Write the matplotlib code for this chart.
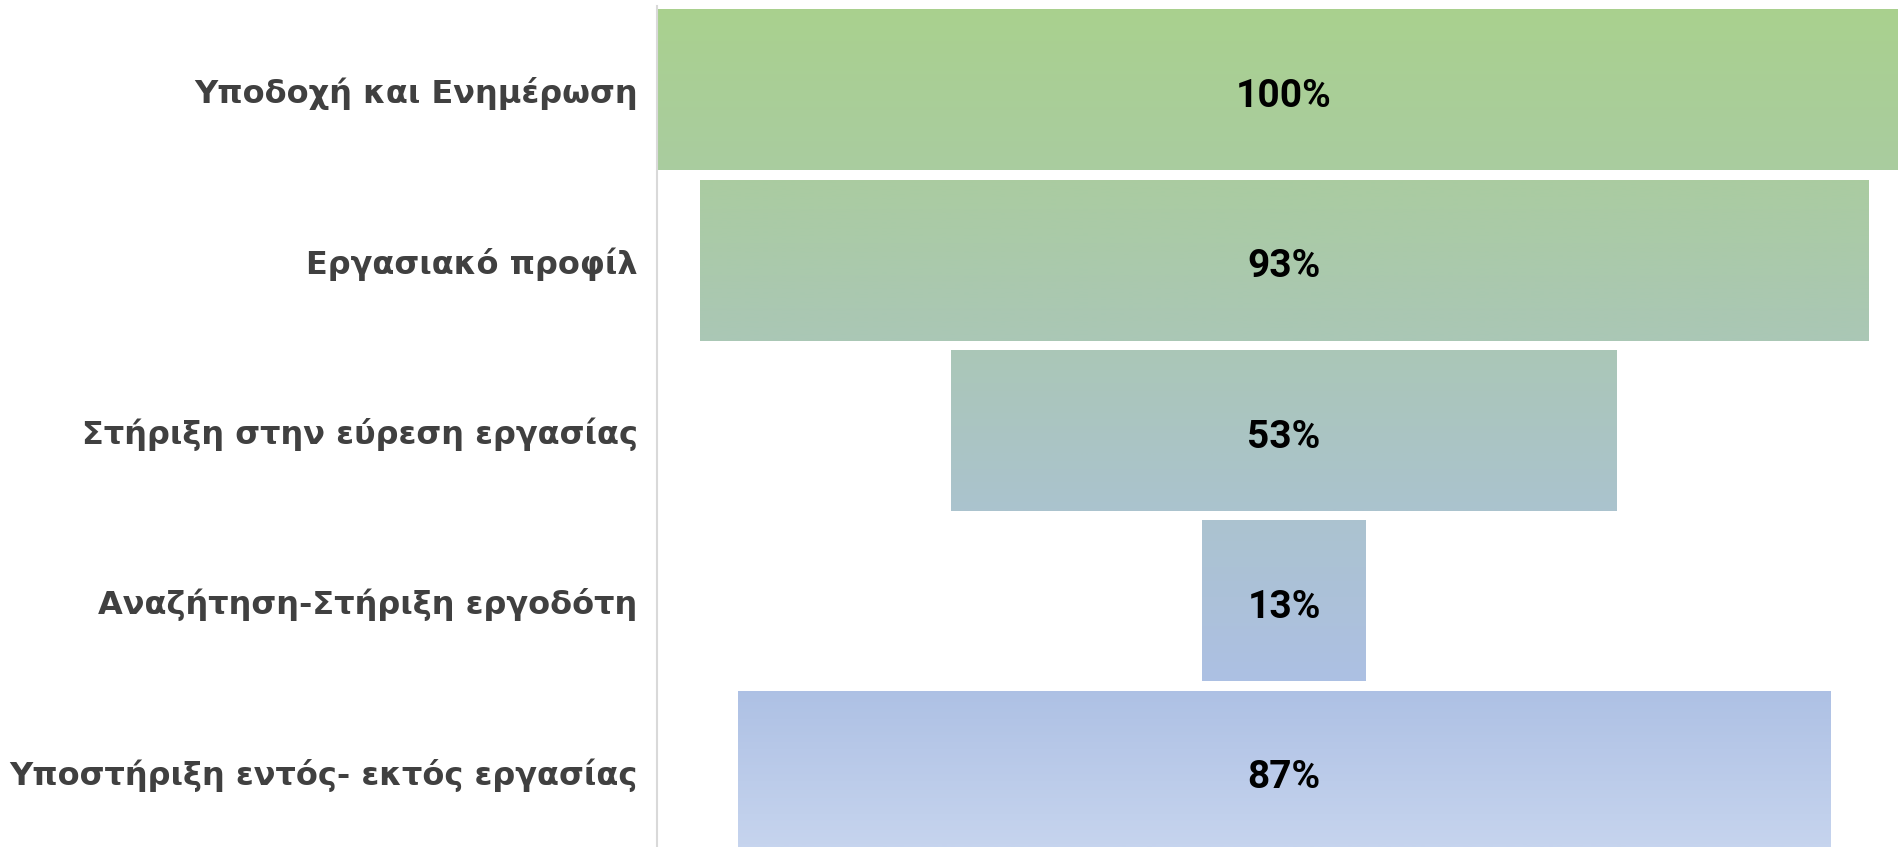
import numpy as np
import matplotlib
matplotlib.use("Agg")
import matplotlib.pyplot as plt
from matplotlib.colors import LinearSegmentedColormap

# data
stages = ["Υποδοχή και Ενημέρωση", "Εργασιακό προφίλ", "Στήριξη στην εύρεση εργασίας",
          "Αναζήτηση-Στήριξη εργοδότη", "Υποστήριξη εντός- εκτός εργασίας"]
values = [100, 93, 53, 13, 87]

fig = plt.figure(figsize=(18.98, 8.47), dpi=100)
ax = fig.add_axes([657 / 1898, 0, 1 - 657 / 1898, 1 - 6 / 847])

ymin, ymax = -0.495, 4.443

# vertical gradient green -> blue over the whole plot
grad = LinearSegmentedColormap.from_list("funnel", [
    (0.00, (169/255, 209/255, 142/255)),
    (0.20, (170/255, 204/255, 160/255)),
    (0.40, (170/255, 199/255, 182/255)),
    (0.60, (171/255, 195/255, 206/255)),
    (0.81, (173/255, 192/255, 228/255)),
    (1.00, (198/255, 212/255, 238/255)),
])

pos = np.arange(len(values))
vals = np.array(values, dtype=float)
bars = ax.barh(pos, vals, left=-vals / 2, height=0.94, color="none", edgecolor="none")

for b in bars:
    x0, y0 = b.get_x(), b.get_y()
    w, h = b.get_width(), b.get_height()
    ys = np.linspace(y0, y0 + h, 200)
    t = (ys - ymin) / (ymax - ymin)
    img = grad(np.clip(t, 0, 1))[:, None, :]
    ax.imshow(img, extent=(x0, x0 + w, y0 + h, y0), aspect="auto",
              interpolation="bilinear", zorder=1, clip_on=True)

ax.set_xlim(-49.92, 48.89)
ax.set_ylim(ymax, ymin)

for i, v in enumerate(values):
    ax.annotate(f"{v}%", (0, i), xytext=(0, -4.5), textcoords="offset points",
                ha="center", va="center", fontsize=28, fontweight="bold",
                family="Roboto", color="black", zorder=3)

ax.set_yticks(pos)
ax.set_yticklabels(stages, fontsize=23, fontweight="bold", color="#404040")
ax.tick_params(axis="y", length=0, pad=14)
ax.set_xticks([])

for s in ["top", "right", "bottom"]:
    ax.spines[s].set_visible(False)
ax.spines["left"].set_color("#d9d9d9")
ax.spines["left"].set_linewidth(1.5)

fig.savefig("out.png", dpi=100)
